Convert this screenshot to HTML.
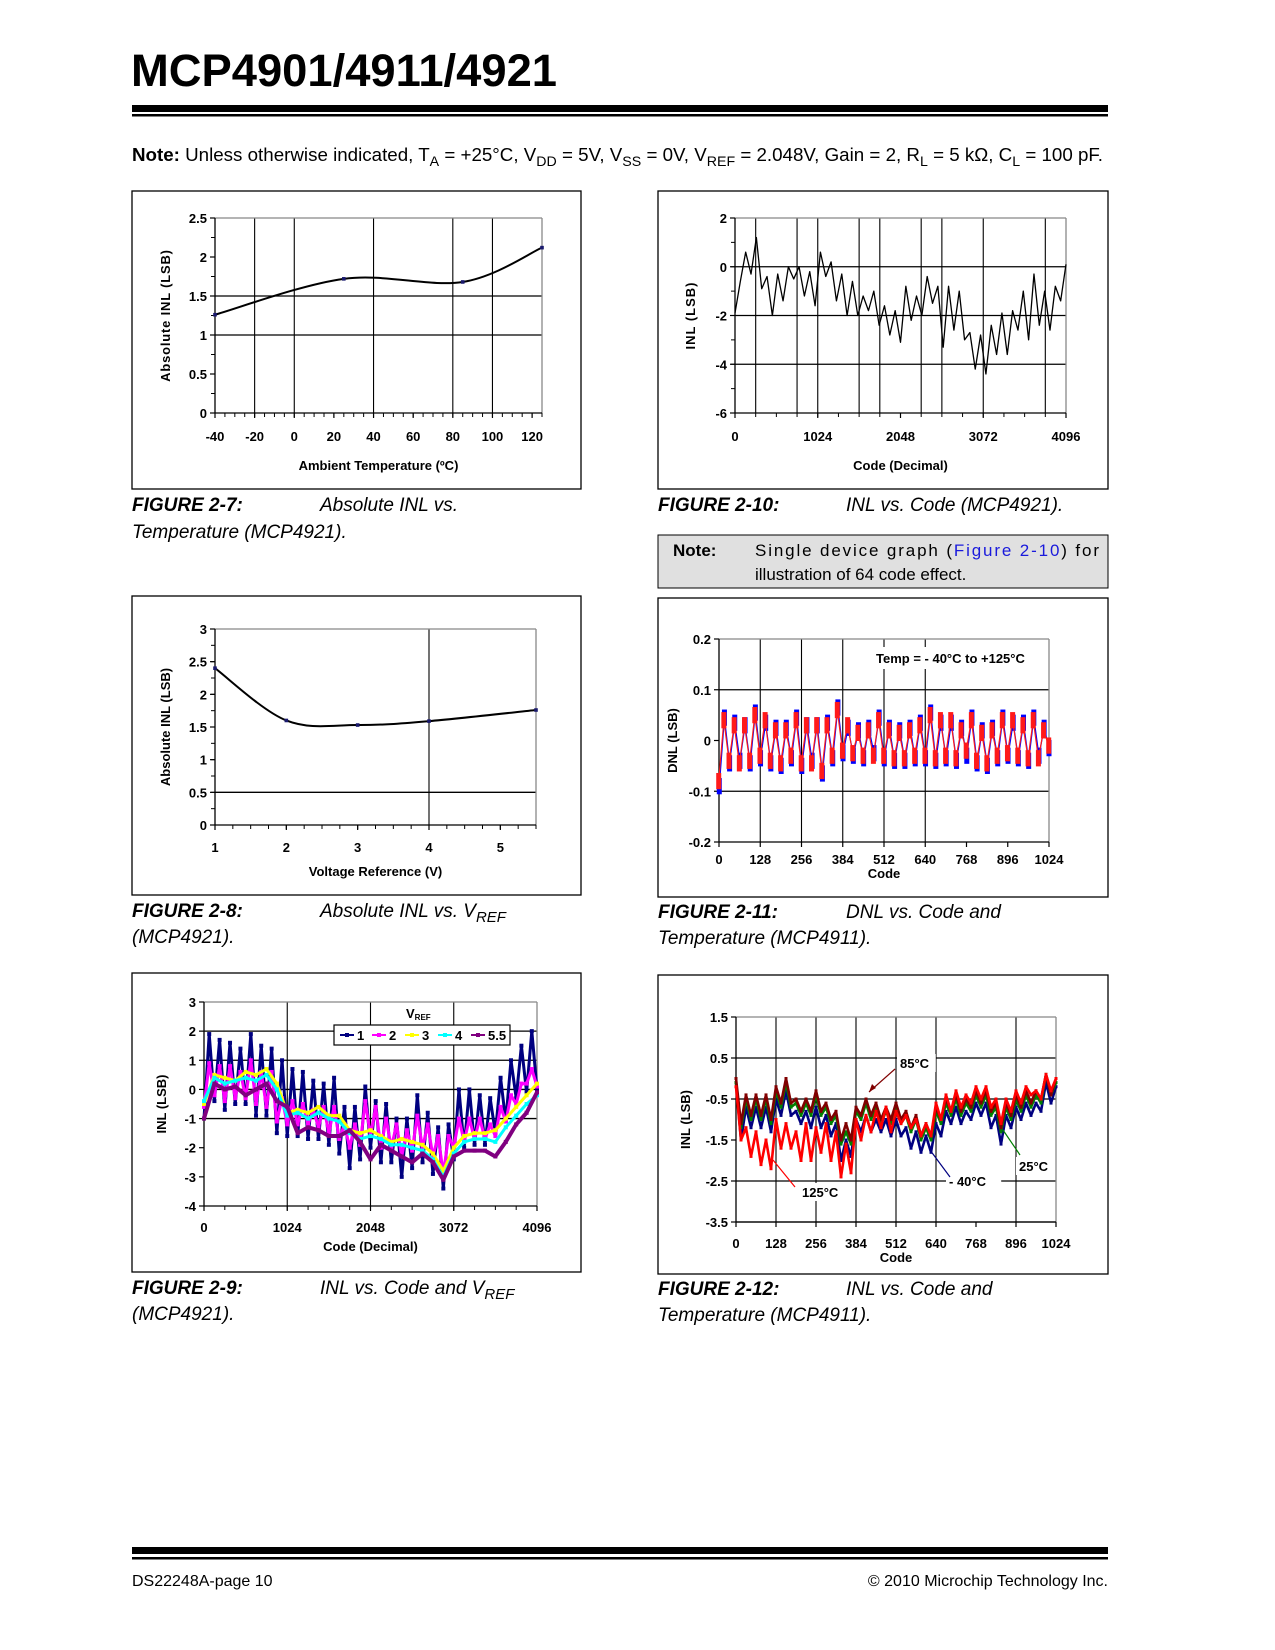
<!DOCTYPE html>
<html><head><meta charset="utf-8"><style>
html,body{margin:0;padding:0;background:#fff}
svg{display:block}
text{font-family:"Liberation Sans",Arial,sans-serif}
.tk{font-weight:bold;font-size:13px}
.cap{font-size:19px;font-style:italic}
</style></head><body>
<svg id="page" xmlns="http://www.w3.org/2000/svg" width="1275" height="1650" viewBox="0 0 1275 1650">
<rect x="0" y="0" width="1275" height="1650" fill="#fff"/>
<text x="131" y="86" font-size="45" font-weight="bold" textLength="426" lengthAdjust="spacingAndGlyphs">MCP4901/4911/4921</text>
<rect x="132" y="105" width="976" height="7" fill="#000"/>
<rect x="132" y="114" width="976" height="2.5" fill="#000"/>
<text x="132" y="161" font-size="18.5" textLength="971" lengthAdjust="spacingAndGlyphs"><tspan font-weight="bold">Note:</tspan> Unless otherwise indicated, T<tspan font-size="14" dy="5">A</tspan><tspan dy="-5"> = +25°C, V</tspan><tspan font-size="14" dy="5">DD</tspan><tspan dy="-5"> = 5V, V</tspan><tspan font-size="14" dy="5">SS</tspan><tspan dy="-5"> = 0V, V</tspan><tspan font-size="14" dy="5">REF</tspan><tspan dy="-5"> = 2.048V, Gain = 2, R</tspan><tspan font-size="14" dy="5">L</tspan><tspan dy="-5"> = 5 kΩ, C</tspan><tspan font-size="14" dy="5">L</tspan><tspan dy="-5"> = 100 pF.</tspan></text>

<rect x="132" y="191" width="449" height="298" fill="none" stroke="#000" stroke-width="1.3"/>
<rect x="658" y="191" width="450" height="298" fill="none" stroke="#000" stroke-width="1.3"/>
<rect x="132" y="596" width="449" height="299" fill="none" stroke="#000" stroke-width="1.3"/>
<rect x="658" y="598" width="450" height="299" fill="none" stroke="#000" stroke-width="1.3"/>
<rect x="132" y="973" width="449" height="299" fill="none" stroke="#000" stroke-width="1.3"/>
<rect x="658" y="975" width="450" height="299" fill="none" stroke="#000" stroke-width="1.3"/>

<g>
<text class="cap" x="132" y="511"><tspan font-weight="bold">FIGURE 2-7:</tspan></text><text class="cap" x="320" y="511">Absolute INL vs.</text>
<text class="cap" x="132" y="538">Temperature (MCP4921).</text></g>
<g>
<text class="cap" x="658" y="511"><tspan font-weight="bold">FIGURE 2-10:</tspan></text><text class="cap" x="846" y="511">INL vs. Code (MCP4921).</text></g>
<g>
<rect x="658" y="535" width="450" height="53" fill="#e0e0e0" stroke="#000" stroke-width="1"/>
<text x="673" y="556" font-size="17" font-weight="bold">Note:</text>
<text x="755" y="556" font-size="17" textLength="344" lengthAdjust="spacing">Single device graph (<tspan fill="#1a1adc">Figure 2-10</tspan>) for</text>
<text x="755" y="580" font-size="17">illustration of 64 code effect.</text></g>
<g>
<text class="cap" x="132" y="917"><tspan font-weight="bold">FIGURE 2-8:</tspan></text><text class="cap" x="320" y="917">Absolute INL vs. V<tspan font-size="15" dy="5">REF</tspan></text>
<text class="cap" x="132" y="943">(MCP4921).</text></g>
<g>
<text class="cap" x="658" y="918"><tspan font-weight="bold">FIGURE 2-11:</tspan></text><text class="cap" x="846" y="918">DNL vs. Code and</text>
<text class="cap" x="658" y="944">Temperature (MCP4911).</text></g>
<g>
<text class="cap" x="132" y="1294"><tspan font-weight="bold">FIGURE 2-9:</tspan></text><text class="cap" x="320" y="1294">INL vs. Code and V<tspan font-size="15" dy="5">REF</tspan></text>
<text class="cap" x="132" y="1320">(MCP4921).</text></g>
<g>
<text class="cap" x="658" y="1295"><tspan font-weight="bold">FIGURE 2-12:</tspan></text><text class="cap" x="846" y="1295">INL vs. Code and</text>
<text class="cap" x="658" y="1321">Temperature (MCP4911).</text></g>

<rect x="132" y="1547" width="976" height="7" fill="#000"/>
<rect x="132" y="1557" width="976" height="2.5" fill="#000"/>
<text x="132" y="1586" font-size="16">DS22248A-page 10</text>
<text x="1108" y="1586" font-size="16" text-anchor="end">© 2010 Microchip Technology Inc.</text>
</svg>
<script>
// ---- chart data ----
const f7Temp=[-40,25,85,125];
const f7Inl=[1.26,1.72,1.68,2.12];
const f8Vref=[1,2,3,4,5.5];
const f8Inl=[2.4,1.6,1.53,1.59,1.76];
const f10Inl=[-1.9,-0.6,0.6,-0.3,1.2,-0.9,-0.4,-2.0,-0.3,-1.4,0.0,-0.5,0.0,-1.2,-0.2,-1.6,0.6,-0.4,0.2,-1.4,-0.3,-2.0,-0.6,-2.0,-1.2,-1.8,-1.0,-2.4,-1.6,-2.8,-1.8,-3.1,-0.8,-2.2,-1.2,-2.0,-0.4,-1.5,-0.8,-3.3,-0.8,-2.6,-1.0,-3.0,-2.7,-4.2,-2.8,-4.4,-2.4,-3.6,-1.9,-3.6,-1.8,-2.6,-1.0,-3.0,-0.3,-2.4,-1.0,-2.6,-0.8,-1.4,0.1];
const f9V1=[-1.0,1.9,-0.4,1.7,-0.7,1.6,-0.5,1.4,-0.5,1.9,-0.9,1.5,-0.9,1.4,-1.5,1.0,-1.6,0.7,-1.6,0.6,-1.7,0.3,-1.7,0.2,-1.9,0.4,-2.2,-0.6,-2.7,-0.6,-2.4,0.1,-2.0,-0.4,-2.5,-0.5,-2.5,-1.0,-3.0,-1.0,-2.7,-0.2,-2.5,-0.8,-2.9,-1.3,-3.4,-1.2,-2.4,0.0,-2.0,0.0,-1.9,-0.2,-1.9,-0.3,-1.5,0.4,-1.1,1.0,-0.3,1.5,-0.1,2.0,0.0];
const f9V2=[-0.6,0.9,-0.2,0.8,-0.4,0.8,-0.3,0.6,-0.3,1.0,-0.5,0.6,-0.6,0.6,-1.1,-0.3,-1.2,-0.4,-1.2,-0.5,-1.2,-0.7,-1.3,-0.6,-1.5,-0.6,-1.7,-1.2,-2.0,-1.2,-1.9,-0.4,-1.6,-0.6,-2.0,-1.0,-2.0,-1.2,-2.3,-1.4,-2.1,-0.9,-2.0,-1.2,-2.3,-1.6,-2.9,-1.6,-2.0,-1.0,-1.8,-1.0,-1.7,-1.0,-1.7,-1.2,-1.6,-0.6,-1.1,-0.2,-0.5,0.2,0.2,0.7,0.1];
const f9V3=[-0.5,0.5,0.4,0.3,0.6,0.5,0.7,0.2,-0.8,-0.7,-0.8,-0.6,-0.9,-0.9,-1.4,-1.5,-1.4,-1.6,-1.8,-1.7,-1.8,-1.9,-2.2,-2.8,-2.0,-1.6,-1.5,-1.5,-1.4,-1.0,-0.6,-0.2,0.2];
const f9V4=[-0.4,0.4,0.2,0.3,0.4,0.3,0.5,0.0,-0.9,-0.8,-1.0,-0.8,-1.0,-1.1,-1.5,-1.7,-1.6,-1.7,-1.9,-1.9,-2.0,-2.1,-2.4,-3.0,-2.2,-1.8,-1.7,-1.7,-1.8,-1.3,-0.9,-0.5,-0.2];
const f9V55=[-1.0,0.2,0.0,0.1,-0.2,0.0,0.2,-0.4,-0.6,-1.5,-1.3,-1.4,-1.6,-1.6,-1.4,-1.8,-2.4,-1.9,-2.1,-2.3,-2.5,-2.2,-2.5,-3.1,-2.3,-2.1,-2.1,-2.1,-2.3,-1.8,-1.2,-0.8,-0.1];
const f9Labels=['1','2','3','4','5.5'];
const f11Red=[-0.08,0.04,-0.04,0.03,-0.045,0.03,-0.04,0.05,-0.03,0.04,-0.04,0.02,-0.045,0.02,-0.03,0.04,-0.045,0.03,-0.045,0.03,-0.06,0.03,-0.03,0.06,-0.02,0.03,-0.025,0.015,-0.03,0.02,-0.03,0.04,-0.03,0.02,-0.035,0.015,-0.035,0.02,-0.03,0.03,-0.03,0.05,-0.035,0.04,-0.03,0.04,-0.035,0.02,-0.02,0.04,-0.04,0.015,-0.045,0.02,-0.03,0.04,-0.025,0.04,-0.03,0.03,-0.035,0.04,-0.035,0.02,-0.01];
const f11Blue=[-0.09,0.045,-0.045,0.035,-0.04,0.03,-0.045,0.055,-0.035,0.035,-0.045,0.025,-0.05,0.025,-0.035,0.045,-0.05,0.03,-0.04,0.03,-0.065,0.035,-0.035,0.065,-0.025,0.025,-0.03,0.02,-0.035,0.025,-0.025,0.045,-0.035,0.025,-0.04,0.02,-0.04,0.025,-0.035,0.035,-0.035,0.055,-0.04,0.035,-0.035,0.035,-0.04,0.025,-0.03,0.045,-0.045,0.02,-0.05,0.025,-0.035,0.045,-0.03,0.035,-0.035,0.035,-0.04,0.045,-0.03,0.025,-0.015];
const f12M40=[-0.1,-1.5,-0.7,-1.2,-0.7,-1.2,-0.7,-1.3,-0.5,-0.9,-0.3,-0.9,-0.8,-1.1,-0.8,-1.2,-0.7,-1.2,-0.9,-1.4,-1.1,-2.0,-1.5,-1.9,-1.0,-1.3,-0.9,-1.3,-1.0,-1.3,-1.0,-1.4,-1.0,-1.4,-1.2,-1.7,-1.3,-1.8,-1.4,-1.8,-1.1,-1.4,-0.8,-1.1,-0.7,-1.1,-0.8,-1.0,-0.6,-0.9,-0.6,-1.2,-0.9,-1.6,-0.9,-1.2,-0.7,-1.0,-0.6,-0.9,-0.6,-0.8,-0.1,-0.6,-0.2];
const f12T25=[-0.1,-1.2,-0.5,-1.0,-0.5,-1.0,-0.5,-1.1,-0.3,-0.7,-0.1,-0.7,-0.6,-0.9,-0.6,-0.9,-0.4,-0.9,-0.7,-1.1,-0.9,-1.6,-1.3,-1.6,-0.8,-1.0,-0.6,-1.0,-0.7,-1.1,-0.8,-1.1,-0.7,-1.1,-0.9,-1.3,-1.0,-1.5,-1.2,-1.5,-0.8,-1.1,-0.6,-0.9,-0.5,-0.9,-0.6,-0.8,-0.4,-0.7,-0.4,-0.9,-0.7,-1.3,-0.7,-1.0,-0.5,-0.8,-0.4,-0.7,-0.4,-0.6,0.1,-0.4,-0.1];
const f12T85=[0.0,-1.1,-0.4,-0.9,-0.4,-0.9,-0.4,-1.0,-0.2,-0.6,0.0,-0.6,-0.5,-0.8,-0.5,-0.8,-0.3,-0.8,-0.6,-1.0,-0.8,-1.5,-1.1,-1.5,-0.7,-0.9,-0.5,-0.9,-0.6,-1.0,-0.7,-1.0,-0.6,-1.0,-0.8,-1.2,-0.9,-1.4,-1.1,-1.4,-0.7,-1.0,-0.5,-0.8,-0.4,-0.8,-0.5,-0.7,-0.3,-0.6,-0.3,-0.8,-0.6,-1.2,-0.6,-0.9,-0.4,-0.7,-0.3,-0.6,-0.3,-0.5,0.1,-0.4,0.0];
const f12T125=[-0.2,-1.5,-1.2,-1.9,-1.3,-2.1,-1.5,-2.2,-1.0,-1.7,-1.1,-1.7,-1.3,-2.0,-1.1,-2.0,-1.2,-1.8,-1.1,-2.0,-1.3,-2.4,-1.6,-2.3,-1.0,-1.5,-0.9,-1.3,-0.8,-1.2,-0.7,-1.3,-0.8,-1.1,-0.9,-1.2,-1.0,-1.4,-1.1,-1.4,-0.6,-1.0,-0.4,-0.8,-0.3,-0.7,-0.4,-0.6,-0.2,-0.5,-0.2,-0.7,-0.5,-1.1,-0.5,-0.8,-0.3,-0.6,-0.2,-0.4,-0.3,-0.5,0.1,-0.3,0.0];

const NS='http://www.w3.org/2000/svg';
const svg=document.getElementById('page');
function mk(tag,attrs,parent){const e=document.createElementNS(NS,tag);for(const k in attrs)e.setAttribute(k,attrs[k]);(parent||svg).appendChild(e);return e;}
function txt(parent,x,y,s,attrs){const t=mk('text',Object.assign({x:x,y:y},attrs||{}),parent);t.textContent=s;return t;}
function chart(name,px0,px1,py0,py1,x0,x1,y0,y1){
  const g=mk('g',{});
  
  
  return {g,px0,px1,py0,py1,sx:v=>px0+(v-x0)/(x1-x0)*(px1-px0),sy:v=>py1-(v-y0)/(y1-y0)*(py1-py0)};
}
function axes(c,o){
  const g=c.g;
  (o.yGrid||[]).forEach(v=>{const l=mk('line',{x1:c.px0,x2:c.px1,y1:c.sy(v),y2:c.sy(v),stroke:'#000','stroke-width':1.3},g);});
  (o.xGrid||[]).forEach(v=>{const l=mk('line',{x1:c.sx(v),x2:c.sx(v),y1:c.py0,y2:c.py1,stroke:'#000','stroke-width':1.1},g);});
  mk('line',{x1:c.px0,x2:c.px1,y1:c.py0,y2:c.py0,stroke:'#888','stroke-width':1.3},g);
  mk('line',{x1:c.px1,x2:c.px1,y1:c.py0,y2:c.py1,stroke:'#888','stroke-width':1.3},g);
  const ya=mk('line',{x1:c.px0,x2:c.px0,y1:c.py0,y2:c.py1,stroke:'#000','stroke-width':1.3},g);
  
  const xa=mk('line',{x1:c.px0,x2:c.px1,y1:c.py1,y2:c.py1,stroke:'#000','stroke-width':1.3},g);
  
  (o.xMinor||[]).forEach(v=>mk('line',{x1:c.sx(v),x2:c.sx(v),y1:c.py1,y2:c.py1+4,stroke:'#000','stroke-width':1},g));
  (o.yMinor||[]).forEach(v=>mk('line',{x1:c.px0-4,x2:c.px0,y1:c.sy(v),y2:c.sy(v),stroke:'#000','stroke-width':1},g));
  o.xTicks.forEach((v,i)=>{mk('line',{x1:c.sx(v),x2:c.sx(v),y1:c.py1,y2:c.py1+5,stroke:'#000','stroke-width':1.2},g);
    const t=txt(g,c.sx(v),o.xLabelY,o.xLabels[i],{class:'tk','text-anchor':'middle'});
    });
  o.yTicks.forEach((v,i)=>{mk('line',{x1:c.px0-5,x2:c.px0,y1:c.sy(v),y2:c.sy(v),stroke:'#000','stroke-width':1.2},g);
    const t=txt(g,c.px0-8,c.sy(v)+5,o.yLabels[i],{class:'tk','text-anchor':'end'});
    });
  const xt=txt(g,o.xTitleX||(c.px0+c.px1)/2,o.xTitleY,o.xTitle,{class:'tk','text-anchor':'middle'});
  
  const yx=o.yTitleX, yy=(c.py0+c.py1)/2;
  const yt=txt(g,yx,yy,o.yTitle,{class:'tk','text-anchor':'middle',transform:`rotate(-90 ${yx} ${yy})`,'letter-spacing':o.ls||0});
  
}
function range(a,b,s){const r=[];for(let v=a;v<=b+1e-9;v+=s)r.push(+v.toFixed(4));return r;}
function pts(c,xs,ys){return ys.map((y,i)=>[c.sx(xs[i]),c.sy(y)]);}
function evenX(n,max){const r=[];for(let i=0;i<n;i++)r.push(i*max/(n-1));return r;}
function poly(c,p,color,w,name){const l=mk('polyline',{points:p.map(q=>q.join(',')).join(' '),fill:'none',stroke:color,'stroke-width':w,'stroke-linejoin':'round'},c.g);
  return l;}
function smooth(c,p,name){let d=`M${p[0][0]},${p[0][1]}`;
  for(let i=0;i<p.length-1;i++){const p0=p[i-1]||p[i],p1=p[i],p2=p[i+1],p3=p[i+2]||p2;
    d+=` C${p1[0]+(p2[0]-p0[0])/6},${p1[1]+(p2[1]-p0[1])/6} ${p2[0]-(p3[0]-p1[0])/6},${p2[1]-(p3[1]-p1[1])/6} ${p2[0]},${p2[1]}`;}
  const e=mk('path',{d:d,fill:'none',stroke:'#000','stroke-width':2},c.g);
  
  p.forEach(q=>{const m=mk('rect',{x:q[0]-1.8,y:q[1]-1.8,width:3.6,height:3.6,fill:'#1a1a6e'},c.g);
    });
}
function markers(c,p,color,s,name){p.forEach(q=>{const m=mk('rect',{x:q[0]-s/2,y:q[1]-s/2,width:s,height:s,fill:color},c.g);
  });}

// Figure 2-7
const c7=chart('chart-inl-vs-temperature',215,542,218,413,-40,125,0,2.5);
axes(c7,{yGrid:[1,1.5],xGrid:[-20,0,40,80,100],xTicks:[-40,-20,0,20,40,60,80,100,120],xLabels:['-40','-20','0','20','40','60','80','100','120'],
  xMinor:range(-40,125,5),yMinor:range(0,2.5,0.25),yTicks:[0,0.5,1,1.5,2,2.5],yLabels:['0','0.5','1','1.5','2','2.5'],
  xLabelY:441,xTitle:'Ambient Temperature (ºC)',xTitleY:470,yTitleX:170,yTitle:'Absolute INL (LSB)',ls:0.8});
smooth(c7,pts(c7,f7Temp,f7Inl),'inl-temperature-curve');

// Figure 2-10
const c10=chart('chart-inl-vs-code-single',735,1066,218,413,0,4096,-6,2);
axes(c10,{yGrid:[0,-2,-4],xGrid:[256,768,1024,1536,1792,2304,2560,3072,3840],xTicks:[0,1024,2048,3072,4096],xLabels:['0','1024','2048','3072','4096'],
  xMinor:range(0,4096,256),yMinor:range(-6,2,1),yTicks:[-6,-4,-2,0,2],yLabels:['-6','-4','-2','0','2'],
  xLabelY:441,xTitle:'Code (Decimal)',xTitleY:470,yTitleX:695,yTitle:'INL (LSB)',ls:1});
poly(c10,pts(c10,evenX(f10Inl.length,4096),f10Inl),'#000',1.3,'inl-code-line');

// Figure 2-8
const c8=chart('chart-inl-vs-vref',215,536,629,825,1,5.5,0,3);
axes(c8,{yGrid:[0.5],xGrid:[4],xTicks:[1,2,3,4,5],xLabels:['1','2','3','4','5'],xMinor:range(1,5.5,0.25),yMinor:range(0,3,0.25),
  yTicks:[0,0.5,1,1.5,2,2.5,3],yLabels:['0','0.5','1','1.5','2','2.5','3'],xLabelY:852,xTitle:'Voltage Reference (V)',xTitleY:876,yTitleX:170,yTitle:'Absolute INL (LSB)'});
smooth(c8,pts(c8,f8Vref,f8Inl),'inl-vref-curve');

// Figure 2-11
const c11=chart('chart-dnl-vs-code',719,1049,639,842,0,1024,-0.2,0.2);
axes(c11,{yGrid:[0.1,-0.1],xGrid:[128,256,384,512,640],xTicks:[0,128,256,384,512,640,768,896,1024],xLabels:['0','128','256','384','512','640','768','896','1024'],
  yTicks:[-0.2,-0.1,0,0.1,0.2],yLabels:['-0.2','-0.1','0','0.1','0.2'],xLabelY:864,xTitle:'Code',xTitleY:878,yTitleX:677,yTitle:'DNL (LSB)'});
const lab11=mk('rect',{x:872,y:647,width:172,height:22,fill:'#fff'},c11.g);
const t11=txt(c11.g,876,663,'Temp = - 40°C to +125°C',{class:'tk'});

[[f11Blue,'#0000ff','dnl-series-blue',3],[f11Red,'#ff1a1a','dnl-series-red',-3]].forEach(([d,col,nm,off])=>{
  const xs=evenX(d.length,1024).map(v=>Math.min(1024,v+off*0.3));
  const p=pts(c11,xs,d);
  poly(c11,p,col,1.2,nm);
  p.forEach((q,i)=>{const l=mk('line',{x1:q[0],x2:q[0],y1:c11.sy(d[i]+0.016),y2:c11.sy(d[i]-0.016),stroke:col,'stroke-width':5},c11.g);
    });
  markers(c11,p,col,4,'dnl-point');
});

// Figure 2-9
const c9=chart('chart-inl-vs-code-vref',204,537,1002,1206,0,4096,-4,3);
axes(c9,{yGrid:[2,1,0,-1],xGrid:[1024,2048,3072],xTicks:[0,1024,2048,3072,4096],xLabels:['0','1024','2048','3072','4096'],xMinor:range(0,4096,256),
  yTicks:[-4,-3,-2,-1,0,1,2,3],yLabels:['-4','-3','-2','-1','0','1','2','3'],xLabelY:1232,xTitle:'Code (Decimal)',xTitleY:1251,yTitleX:166,yTitle:'INL (LSB)'});
const f9Series=[f9V1,f9V2,f9V3,f9V4,f9V55];
const f9Colors=['#000080','#ff00ff','#ffff00','#00ffff','#800080'];
f9Series.forEach((d,k)=>{const p=pts(c9,evenX(d.length,4096),d);poly(c9,p,f9Colors[k],k===0?3:(k===4?4:3),'vref-series-'+f9Labels[k]);markers(c9,p,f9Colors[k],4,'vref-point');});
const lg=mk('g',{},c9.g);

mk('rect',{x:334,y:1025,width:176,height:20,fill:'#fff',stroke:'#000','stroke-width':1.2},lg);
const vr=txt(lg,406,1018,'V',{class:'tk'});mk('tspan',{'font-size':8,dy:2},vr).textContent='REF';
const legX=[340,372,405,438,471];
f9Labels.forEach((s,k)=>{mk('line',{x1:legX[k],x2:legX[k]+14,y1:1035,y2:1035,stroke:f9Colors[k],'stroke-width':2},lg);
  mk('rect',{x:legX[k]+5,y:1033,width:4,height:4,fill:f9Colors[k]},lg);
  const t=txt(lg,legX[k]+17,1040,s,{class:'tk'});});

// Figure 2-12
const c12=chart('chart-inl-vs-code-temperature',736,1056,1017,1222,0,1024,-3.5,1.5);
axes(c12,{yGrid:[0.5,-0.5,-2.5,-3.5],xGrid:[128,256,384,512,640,896],xTicks:[0,128,256,384,512,640,768,896,1024],xLabels:['0','128','256','384','512','640','768','896','1024'],
  yTicks:[-3.5,-2.5,-1.5,-0.5,0.5,1.5],yLabels:['-3.5','-2.5','-1.5','-0.5','0.5','1.5'],xLabelY:1248,xTitle:'Code',xTitleY:1262,yTitleX:690,yTitle:'INL (LSB)'});
[[f12M40,'#000080','inl-minus40c'],[f12T25,'#008000','inl-25c'],[f12T85,'#800000','inl-85c'],[f12T125,'#ff0000','inl-125c']].forEach(([d,col,nm])=>{
  const p=pts(c12,evenX(d.length,1024),d);poly(c12,p,col,2.6,nm);markers(c12,p,col,3,'inl-point');});
function ann(x,y,s,lx1,ly1,lx2,ly2,col,name){
  const w=s.length*8.2+6;mk('rect',{x:x-3,y:y-14,width:w,height:18,fill:'#fff'},c12.g);
  mk('line',{x1:lx1,y1:ly1,x2:lx2,y2:ly2,stroke:col,'stroke-width':1.2},c12.g);
  const t=txt(c12.g,x,y,s,{class:'tk'});}
ann(900,1068,'85°C',895,1069,869,1092,'#800000','label-85c');
mk('polygon',{points:'869,1092 872,1084 876,1088',fill:'#800000'},c12.g);
ann(802,1197,'125°C',795,1187,773,1160,'#ff0000','label-125c');
ann(949,1186,'- 40°C',950,1177,930,1150,'#000080','label-minus40c');
ann(1019,1171,'25°C',1020,1155,1003,1130,'#008000','label-25c');
</script>
</body></html>
